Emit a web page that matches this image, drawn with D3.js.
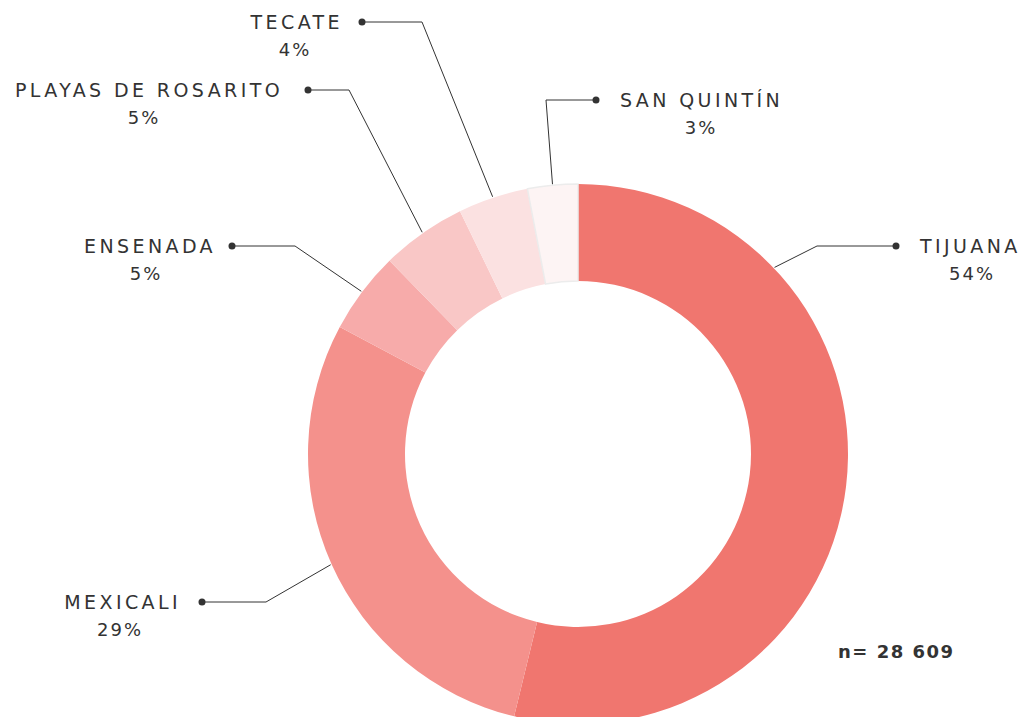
<!DOCTYPE html>
<html>
<head>
<meta charset="utf-8">
<script src="https://cdn.jsdelivr.net/npm/d3@7"></script>
<style>
  body { margin: 0; background: #fff; }
  svg text { font-family: "DejaVu Sans", "Open Sans", sans-serif; fill: #333; }
</style>
</head>
<body>
<div id="chart"></div>
<script>
// data
const municipios = ['TIJUANA', 'MEXICALI', 'ENSENADA', 'PLAYAS DE ROSARITO', 'TECATE', 'SAN QUINTÍN'];
const porcentajes = [53.8, 29.0, 4.9, 5.1, 4.2, 3.0];
const colores = ['#f0766f', '#f4918c', '#f7abaa', '#f9c7c6', '#fbe1e1', '#fdf4f4'];
const total = '28 609';

const width = 1027, height = 717;
const cx = 578, cy = 454;
const outerR = 270, innerR = 173;

// label layout: elbow and end dot, text side
const labelPos = [
  { ex: 817, ey: 246, dx: 896, side: 'right', tx: 920, px: 972 },
  { ex: 266, ey: 602, dx: 202, side: 'left', tx: 181, px: 120 },
  { ex: 295, ey: 246, dx: 232, side: 'left', tx: 216, px: 146 },
  { ex: 349, ey: 90, dx: 308, side: 'left', tx: 283, px: 144 },
  { ex: 422, ey: 22, dx: 362, side: 'left', tx: 343, px: 295 },
  { ex: 546, ey: 100, dx: 596, side: 'right', tx: 620, px: 701 }
];

const svg = d3.select('#chart')
  .append('svg')
  .attr('width', width)
  .attr('height', height);

const pie = d3.pie().sort(null).value(d => d);
const arcs = pie(porcentajes);

const arc = d3.arc().innerRadius(innerR).outerRadius(outerR);
const lineArc = d3.arc().innerRadius(outerR + 1).outerRadius(outerR + 1);

const g = svg.append('g').attr('transform', `translate(${cx},${cy})`);

g.selectAll('path')
  .data(arcs)
  .enter()
  .append('path')
  .attr('d', arc)
  .style('fill', (d, i) => colores[i])
  .style('stroke', (d, i) => i === 5 ? '#ececec' : 'none')
  .style('stroke-width', 1.5);

// leader lines
arcs.forEach((d, i) => {
  let a = (d.startAngle + d.endAngle) / 2;
  if (i === 0) a = d.startAngle + (d.endAngle - d.startAngle) * 0.24; // tijuana line sits higher
  const p = lineArc.centroid({ startAngle: a, endAngle: a });
  const L = labelPos[i];
  const pts = [[cx + p[0], cy + p[1]], [L.ex, L.ey], [L.dx, L.ey]];

  svg.append('path')
    .attr('d', d3.line()(pts))
    .style('fill', 'none')
    .style('stroke', '#333')
    .style('stroke-width', 1);

  svg.append('circle')
    .attr('cx', L.dx)
    .attr('cy', L.ey)
    .attr('r', 3.5)
    .style('fill', '#333');

  svg.append('text')
    .attr('x', L.tx)
    .attr('y', L.ey + 7)
    .attr('text-anchor', L.side === 'right' ? 'start' : 'end')
    .style('font-size', '19px')
    .style('letter-spacing', '3.4px')
    .text(municipios[i]);

  svg.append('text')
    .attr('x', L.px)
    .attr('y', L.ey + 34)
    .attr('text-anchor', 'middle')
    .style('font-size', '18px')
    .style('letter-spacing', '2px')
    .text(d3.format('.0f')(porcentajes[i]) + '%');
});

svg.append('text')
  .attr('x', 838)
  .attr('y', 658)
  .style('font-size', '18px')
  .style('font-weight', 'bold')
  .style('letter-spacing', '1.5px')
  .text('n= ' + total);
</script>
</body>
</html>
